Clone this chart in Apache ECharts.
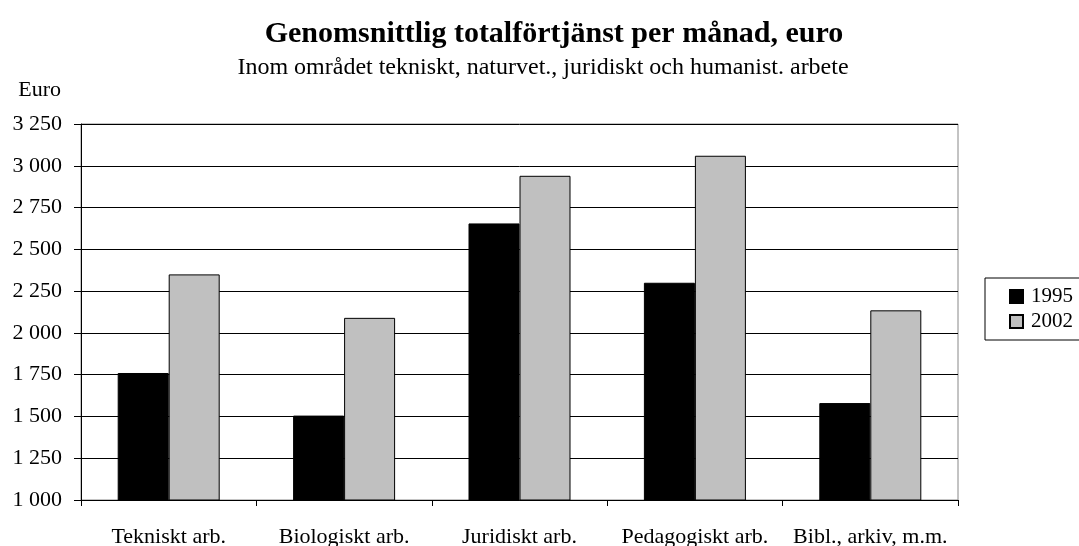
<!DOCTYPE html>
<html>
<head>
<meta charset="utf-8">
<script src="https://cdn.jsdelivr.net/npm/echarts@6/dist/echarts.min.js"></script>
<style>
  html, body { margin: 0; padding: 0; background: #fff; }
  #chart { width: 1079px; height: 546px; }
</style>
</head>
<body>
<div id="chart"></div>
<script>
// kategorier och värden (euro per månad)
const categories = ['Tekniskt arb.', 'Biologiskt arb.', 'Juridiskt arb.', 'Pedagogiskt arb.', 'Bibl., arkiv, m.m.'];
const values1995 = [1760, 1505, 2655, 2300, 1580];
const values2002 = [2350, 2090, 2940, 3060, 2135];
const yMin = 1000;
const yMax = 3250;
const yStep = 250;

const font = 'Liberation Serif';
const chart = echarts.init(document.getElementById('chart'));

function fmt(v) {
  return String(v).replace(/\B(?=(\d{3})+(?!\d))/g, ' ');
}

const option = {
  animation: false,
  textStyle: { fontFamily: font, color: '#000' },
  title: [
    {
      text: 'Genomsnittlig totalförtjänst per månad, euro',
      left: 549,
      top: 14,
      textAlign: 'center',
      textStyle: { fontFamily: font, fontSize: 30, fontWeight: 'bold', color: '#000' },
    },
    {
      text: 'Inom området tekniskt, naturvet., juridiskt och humanist. arbete',
      left: 538,
      top: 51,
      textAlign: 'center',
      textStyle: { fontFamily: font, fontSize: 24, fontWeight: 'normal', color: '#000' },
    },
  ],
  legend: {
    orient: 'vertical',
    left: 985,
    top: 278,
    padding: [8, 20, 8, 24],
    itemGap: 4,
    itemWidth: 13,
    itemHeight: 13,
    icon: 'rect',
    borderColor: '#000',
    borderWidth: 1,
    data: ['1995', '2002'],
    textStyle: { fontFamily: font, fontSize: 21, color: '#000', padding: [0, 0, 0, 3] },
  },
  grid: {
    left: 81,
    right: 121,
    top: 124,
    bottom: 46,
    outerBoundsMode: 'none',
    show: true,
    borderColor: '#888',
    borderWidth: 1,
  },
  xAxis: {
    type: 'category',
    data: categories,
    axisLine: { lineStyle: { color: '#000', width: 1 } },
    axisTick: { show: true, interval: 0, length: 6, lineStyle: { color: '#000' } },
    axisLabel: { interval: 0, hideOverlap: false, fontFamily: font, fontSize: 22, color: '#000', margin: 26 },
  },
  yAxis: {
    type: 'value',
    name: 'Euro',
    nameLocation: 'end',
    nameGap: 23,
    nameTextStyle: { fontFamily: font, fontSize: 22, color: '#000', align: 'right', padding: [0, 20, 0, 0] },
    min: yMin,
    max: yMax,
    interval: yStep,
    axisLine: { show: true, lineStyle: { color: '#000', width: 1 } },
    axisTick: { show: true, length: 7, lineStyle: { color: '#000' } },
    axisLabel: { fontFamily: font, fontSize: 22, color: '#000', margin: 19, formatter: fmt },
    splitLine: { show: true, lineStyle: { color: '#000', width: 1 } },
  },
  series: [
    {
      name: '1995',
      type: 'bar',
      data: values1995,
      barWidth: 51,
      barGap: '0%',
      itemStyle: { color: '#000', borderColor: '#000', borderWidth: 1 },
    },
    {
      name: '2002',
      type: 'bar',
      data: values2002,
      barWidth: 51,
      barGap: '0%',
      itemStyle: { color: '#c0c0c0', borderColor: '#000', borderWidth: 1 },
    },
  ],
};

chart.setOption(option);
</script>
</body>
</html>
